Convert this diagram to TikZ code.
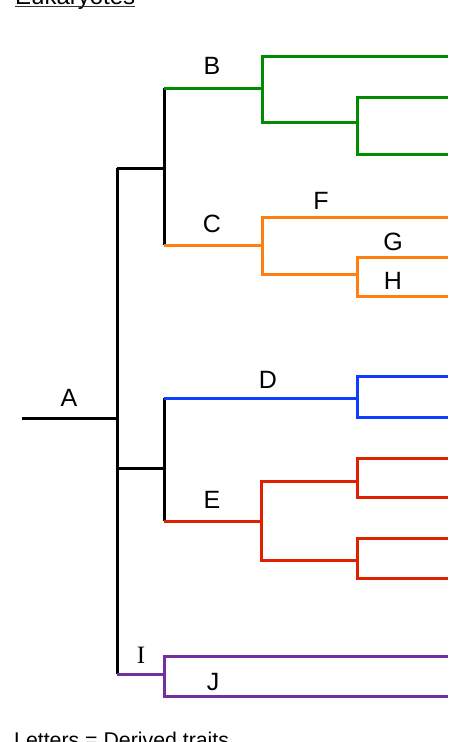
\documentclass[tikz,border=0pt]{standalone}
\usepackage{fontspec}
\setmainfont{Liberation Sans}
\newfontfamily\serifI{Liberation Serif}
\definecolor{cgreen}{RGB}{0,140,0}
\definecolor{corange}{RGB}{255,128,16}
\definecolor{cblue}{RGB}{16,60,255}
\definecolor{cred}{RGB}{224,32,0}
\definecolor{cpurple}{RGB}{112,48,160}
\begin{document}
\begin{tikzpicture}[x=1pt,y=-1pt,
  br/.style={line width=3pt},
  lab/.style={inner sep=0pt, font=\fontsize{25}{30}\selectfont},
  txt/.style={inner sep=0pt, font=\fontsize{24}{28}\selectfont, anchor=base west}]
\useasboundingbox (0,0) rectangle (448,742);
% black backbone
\coordinate (root) at (22,418);
\coordinate (n1) at (117,418);
\coordinate (n1t) at (117,168);
\coordinate (n1m) at (117,468);
\coordinate (n1b) at (117,674);
\coordinate (n2) at (164,168);
\coordinate (n2t) at (164,88);
\coordinate (n2b) at (164,245);
\coordinate (n3) at (164,468);
\coordinate (n3t) at (164,398);
\coordinate (n3b) at (164,521);
\draw[br] (root) -- (n1);
\draw[br] (n1t) -- (n1b);
\draw[br] (n1t) -- (n2);
\draw[br] (n2t) -- (n2b);
\draw[br] (n1m) -- (n3);
\draw[br] (n3t) -- (n3b);
% green
\coordinate (gB) at (262,88);
\coordinate (gBt) at (262,56);
\coordinate (gBb) at (262,122);
\coordinate (gS) at (357,122);
\coordinate (gSt) at (357,97);
\coordinate (gSb) at (357,154);
\coordinate (g1) at (448,56);
\coordinate (g2) at (448,97);
\coordinate (g3) at (448,154);
\draw[br,cgreen] (n2t) -- (gB);
\draw[br,cgreen] (g1) -- (gBt) -- (gBb) -- (gS);
\draw[br,cgreen] (g2) -- (gSt) -- (gSb) -- (g3);
% orange
\coordinate (oC) at (262,245);
\coordinate (oCt) at (262,217);
\coordinate (oCb) at (262,274);
\coordinate (oS) at (357,274);
\coordinate (oSt) at (357,257);
\coordinate (oSb) at (357,296);
\coordinate (o1) at (448,217);
\coordinate (o2) at (448,257);
\coordinate (o3) at (448,296);
\draw[br,corange] (n2b) -- (oC);
\draw[br,corange] (o1) -- (oCt) -- (oCb) -- (oS);
\draw[br,corange] (o2) -- (oSt) -- (oSb) -- (o3);
% blue
\coordinate (bD) at (357,398);
\coordinate (bDt) at (357,376);
\coordinate (bDb) at (357,417);
\coordinate (b1) at (448,376);
\coordinate (b2) at (448,417);
\draw[br,cblue] (n3t) -- (bD);
\draw[br,cblue] (b1) -- (bDt) -- (bDb) -- (b2);
% red
\coordinate (rE) at (261,521);
\coordinate (rEt) at (261,481);
\coordinate (rEb) at (261,560);
\coordinate (rU) at (357,481);
\coordinate (rUt) at (357,458);
\coordinate (rUb) at (357,497);
\coordinate (rL) at (357,560);
\coordinate (rLt) at (357,538);
\coordinate (rLb) at (357,578);
\coordinate (r1) at (448,458);
\coordinate (r2) at (448,497);
\coordinate (r3) at (448,538);
\coordinate (r4) at (448,578);
\draw[br,cred] (n3b) -- (rE);
\draw[br,cred] (rU) -- (rEt) -- (rEb) -- (rL);
\draw[br,cred] (r1) -- (rUt) -- (rUb) -- (r2);
\draw[br,cred] (r3) -- (rLt) -- (rLb) -- (r4);
% purple
\coordinate (pJ) at (164,674);
\coordinate (pJt) at (164,656);
\coordinate (pJb) at (164,696);
\coordinate (p1) at (448,656);
\coordinate (p2) at (448,696);
\draw[br,cpurple] (n1b) -- (pJ);
\draw[br,cpurple] (p1) -- (pJt) -- (pJb) -- (p2);
% labels
\node[lab] (A) at (69,398) {A};
\node[lab] (B) at (212,66) {B};
\node[lab] (C) at (212,224) {C};
\node[lab] (F) at (321,201) {F};
\node[lab] (G) at (393,242) {G};
\node[lab] (H) at (393,281) {H};
\node[lab] (D) at (268,380) {D};
\node[lab] (E) at (212,500) {E};
\node[lab, font=\fontsize{25}{30}\selectfont\serifI] (I) at (141,655) {I};
\node[lab] (J) at (213,682) {J};
% title and legend
\node[txt] (title) at (15,4) {Eukaryotes};
\draw[line width=1.6pt, black!80] ([yshift=-2.5pt]title.base west) -- ([yshift=-2.5pt]title.base east);
\node[txt, font=\fontsize{21.3}{26}\selectfont] (legend) at (14,747.5) {Letters = Derived traits};
\end{tikzpicture}
\end{document}
